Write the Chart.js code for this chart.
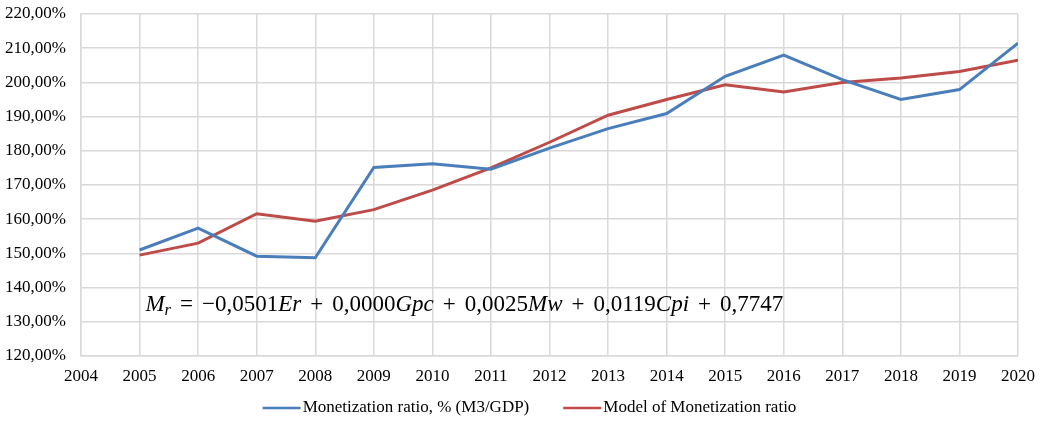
<!DOCTYPE html>
<html>
<head>
<meta charset="utf-8">
<script src="https://cdn.jsdelivr.net/npm/chart.js@4/dist/chart.umd.min.js"></script>
<style>
  html, body { margin: 0; padding: 0; background: #fff; }
  #wrap { width: 1041px; height: 421px; }
</style>
</head>
<body>
<div id="wrap"><canvas id="myChart" width="1041" height="421"></canvas></div>
<script>
// years and values (in %)
var years = [2005, 2006, 2007, 2008, 2009, 2010, 2011, 2012, 2013, 2014, 2015, 2016, 2017, 2018, 2019, 2020];
var monetization = [151.0, 157.4, 149.2, 148.7, 175.1, 176.2, 174.6, 180.8, 186.5, 190.9, 201.8, 208.0, 200.8, 195.0, 197.9, 211.5];
var model = [149.5, 153.0, 161.6, 159.4, 162.8, 168.5, 175.0, 182.5, 190.4, 195.0, 199.3, 197.2, 200.0, 201.3, 203.2, 206.5];
var seriesNames = ['Monetization ratio, % (M3/GDP)', 'Model of Monetization ratio'];
var seriesColors = ['#4a7ebb', '#be4b48'];

function pts(vals) {
    var out = [];
    for (var i = 0; i < years.length; i++) {
        out.push({ x: years[i], y: vals[i] });
    }
    return out;
}

// equation drawn over the plot ('o' = operator, gets extra room)
var equation = [
    ['M', 'i'], ['r', 's'], ['=', 'o'], ['\u22120,0501', 'n'], ['Er', 'i'],
    ['+', 'o'], ['0,0000', 'n'], ['Gpc', 'i'], ['+', 'o'], ['0,0025', 'n'], ['Mw', 'i'],
    ['+', 'o'], ['0,0119', 'n'], ['Cpi', 'i'], ['+', 'o'], ['0,7747', 'n']
];

var eqPlugin = {
    id: 'eq',
    afterDatasetsDraw: function(chart) {
        var c = chart.ctx;
        var x = chart.scales.x.getPixelForValue(2005.1);
        var y = chart.scales.y.getPixelForValue(133.2);
        var size = 23;
        var gap = 9;
        c.save();
        c.fillStyle = '#000';
        c.textBaseline = 'alphabetic';
        for (var i = 0; i < equation.length; i++) {
            var t = equation[i][0], k = equation[i][1];
            var dy = 0;
            if (k == 'i') c.font = 'italic ' + size + 'px "Liberation Serif"';
            else if (k == 's') { c.font = 'italic ' + (size * 0.72) + 'px "Liberation Serif"'; dy = 4; }
            else c.font = size + 'px "Liberation Serif"';
            if (k == 'o') x += gap;
            c.fillText(t, x, y + dy);
            x += c.measureText(t).width;
            if (k == 'o') x += gap;
        }
        c.restore();
    }
};

// excel-like legend under the axis
var legendPlugin = {
    id: 'xlLegend',
    afterDraw: function(chart) {
        var c = chart.ctx;
        var lineW = 38, textGap = 2, itemGap = 34;
        c.save();
        c.font = '17px "Liberation Serif"';
        var total = 0;
        for (var i = 0; i < seriesNames.length; i++) {
            total += lineW + textGap + c.measureText(seriesNames[i]).width;
            if (i > 0) total += itemGap;
        }
        var x = chart.width / 2 + 9 - total / 2;
        var y = 408;
        c.textBaseline = 'middle';
        for (var j = 0; j < seriesNames.length; j++) {
            c.strokeStyle = seriesColors[j];
            c.lineWidth = 2.5;
            c.beginPath();
            c.moveTo(x, y);
            c.lineTo(x + lineW, y);
            c.stroke();
            x += lineW + textGap;
            c.fillStyle = '#000';
            c.fillText(seriesNames[j], x, y);
            x += c.measureText(seriesNames[j]).width + itemGap;
        }
        c.restore();
    }
};

var ctx = document.getElementById('myChart').getContext('2d');
var chart = new Chart(ctx, {
    type: 'line',
    data: {
        datasets: [{
            label: seriesNames[0],
            data: pts(monetization),
            borderColor: seriesColors[0],
            borderWidth: 3,
            pointRadius: 0,
            tension: 0
        }, {
            label: seriesNames[1],
            data: pts(model),
            borderColor: seriesColors[1],
            borderWidth: 3,
            pointRadius: 0,
            tension: 0
        }]
    },
    options: {
        responsive: false,
        animation: false,
        layout: { padding: { top: 14, right: 23, bottom: 29, left: 0 } },
        plugins: {
            legend: { display: false },
            tooltip: { enabled: false }
        },
        scales: {
            x: {
                type: 'linear',
                min: 2004,
                max: 2020,
                ticks: {
                    stepSize: 1,
                    color: '#000',
                    padding: 10,
                    font: { family: '"Liberation Serif"', size: 17 },
                    callback: function(v) { return String(v); }
                },
                grid: { color: '#d9d9d9', lineWidth: 1.5, drawTicks: false },
                border: { color: '#d9d9d9', width: 1.5 },
                afterFit: function(s) {
                    s.height = 36;
                    s.paddingLeft = 0;
                    s.paddingRight = 0;
                }
            },
            y: {
                min: 120,
                max: 220,
                ticks: {
                    stepSize: 10,
                    color: '#000',
                    padding: 15,
                    font: { family: '"Liberation Serif"', size: 17 },
                    callback: function(v) { return v.toFixed(2).replace('.', ',') + '%'; }
                },
                grid: { color: '#d9d9d9', lineWidth: 1.5, drawTicks: false },
                border: { color: '#d9d9d9', width: 1.5 },
                afterFit: function(s) {
                    s.width = 81;
                    s.paddingTop = 0;
                    s.paddingBottom = 0;
                }
            }
        }
    },
    plugins: [eqPlugin, legendPlugin]
});
</script>
</body>
</html>
